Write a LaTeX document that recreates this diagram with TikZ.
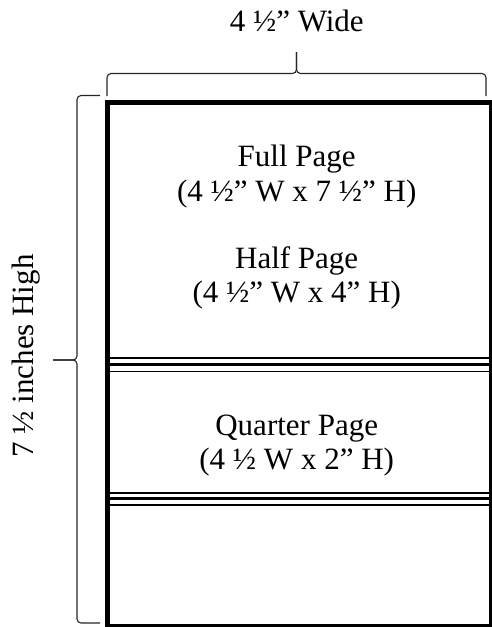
\documentclass[tikz,border=0pt]{standalone}
\usepackage{fontspec}
\setmainfont{Liberation Serif}
\begin{document}
\begin{tikzpicture}[
    x=1pt, y=-1pt,
    curly/.style={draw=black!85, line width=1.1pt, rounded corners=4pt},
    sizetext/.style={anchor=base, inner sep=0pt},
    every node/.style={font=\fontsize{31}{36}\selectfont}]

    \useasboundingbox (0,0) rectangle (492,627);

    % the page
    \node[draw, line width=5.5pt, minimum width=384pt, minimum height=524.5pt,
          inner sep=0pt, anchor=north west] (page) at (104.7,99.5) {};

    % divider lines
    \foreach \y/\w in {357.5/2, 364.2/3, 371.4/1.6, 493/2, 498.7/2.7, 504.9/1.7}
        \draw[line width=\w pt] (page.west |- 0,\y) -- (page.east |- 0,\y);

    % braces
    \draw[curly] (107,96) -- (107,73.5) -- (296.5,73.5) -- (296.5,52);
    \draw[curly] (486,96) -- (486,73.5) -- (296.5,73.5) -- (296.5,52);
    \draw[curly] (100,95.5) -- (77,95.5) -- (77,360) -- (53,360);
    \draw[curly] (100,623) -- (77,623) -- (77,360) -- (53,360);

    \node[sizetext] (wide) at (296.7,31) {4 ½” Wide};
    \node[sizetext, rotate=90] (high) at (34,356) {7 ½ inches High};

    \node[sizetext] (full) at (296.7,166) {Full Page};
    \node[sizetext] (fullsize) at (296.7,201) {(4 ½” W x 7 ½” H)};
    \node[sizetext] (half) at (296.7,268.5) {Half Page};
    \node[sizetext] (halfsize) at (296.7,302) {(4 ½” W x 4” H)};
    \node[sizetext] (quarter) at (296.7,435) {Quarter Page};
    \node[sizetext] (quartersize) at (296.7,469) {(4 ½ W x 2” H)};
\end{tikzpicture}
\end{document}
